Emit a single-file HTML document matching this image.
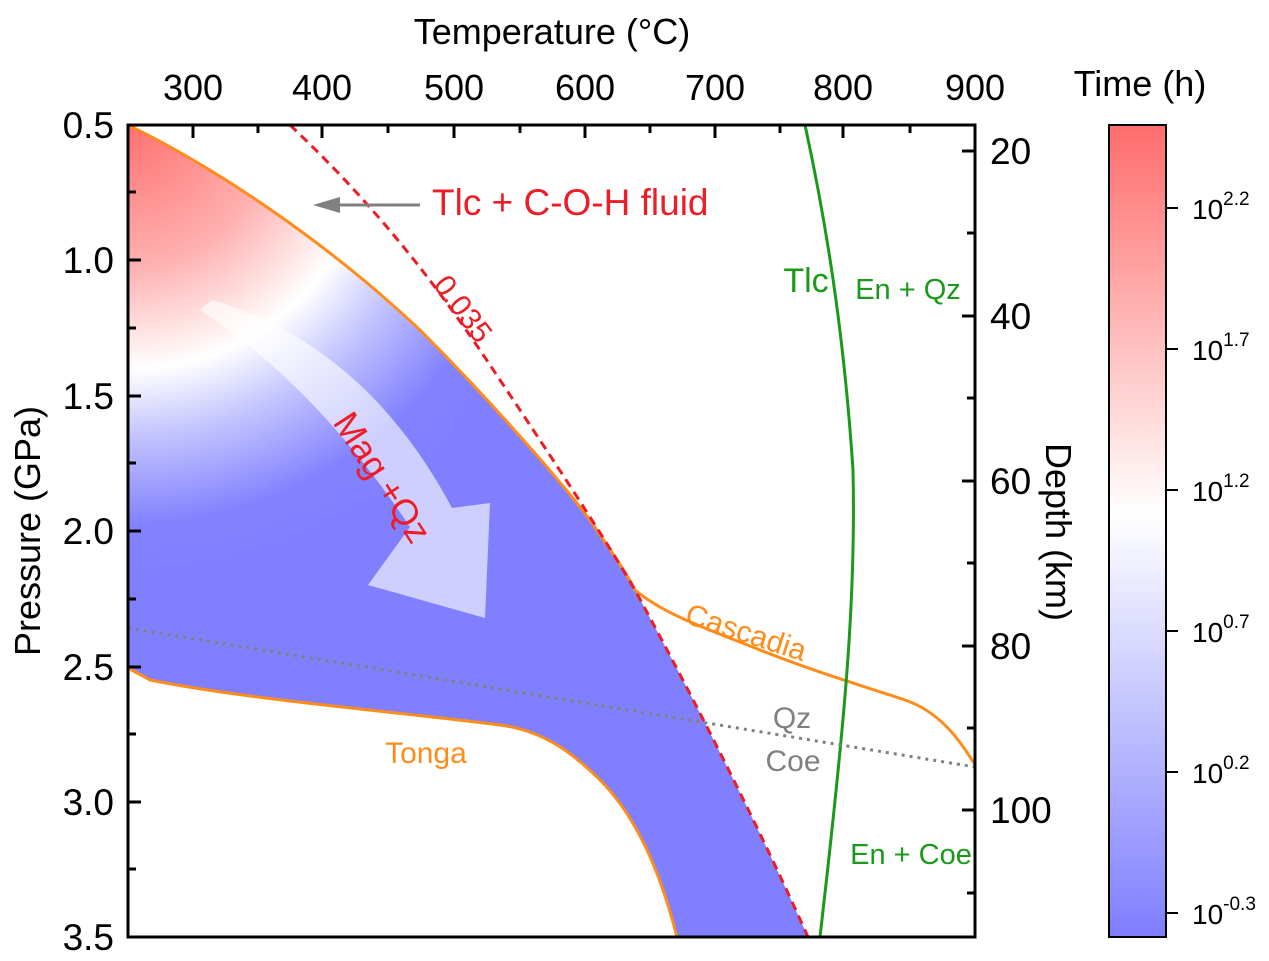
<!DOCTYPE html>
<html><head><meta charset="utf-8"><style>body{margin:0;background:#fff}svg{display:block}text{font-family:"Liberation Sans",sans-serif}</style></head><body>
<svg width="1269" height="961" viewBox="0 0 1269 961" xmlns="http://www.w3.org/2000/svg">
<defs>
<radialGradient id="rg" gradientUnits="userSpaceOnUse" cx="128" cy="125" r="470">
<stop offset="0" stop-color="#ff7070"/><stop offset="0.3" stop-color="#ffb0b0"/><stop offset="0.52" stop-color="#ffffff"/><stop offset="0.66" stop-color="#c4c4ff"/><stop offset="0.85" stop-color="#8282ff"/><stop offset="1" stop-color="#8080ff"/>
</radialGradient>
<linearGradient id="cb" x1="0" y1="0" x2="0" y2="1">
<stop offset="0" stop-color="#ff6c6c"/><stop offset="0.48" stop-color="#ffffff"/><stop offset="1" stop-color="#7e7eff"/>
</linearGradient>
</defs>
<path d="M128,125 C220,170 330,245 420,330 C490,400 560,480 590,520 C610,550 625,570 635,590 C700,710 760,830 808,937 L677,937 C660,870 635,815 600,780 C570,750 540,730 500,725 C400,712 250,700 150,680 L128,668 Z" fill="url(#rg)"/>
<path d="M200,310 Q315,385 410,527 L368,585 L485,618 L490,503 L452,508 Q365,345 212,300 Z" fill="#fff" fill-opacity="0.62"/>
<path d="M128,125 C220,170 330,245 420,330 C490,400 560,480 590,520 C610,550 625,570 635,590 C665,615 710,630 760,650 C810,670 860,685 905,700 C940,712 960,740 975,765" fill="none" stroke="#ff8c1a" stroke-width="3"/>
<path d="M128,668 L150,680 C250,700 400,712 500,725 C540,730 570,750 600,780 C635,815 660,870 677,937" fill="none" stroke="#ff8c1a" stroke-width="3"/>
<path d="M290,125 C380,210 440,290 490,365 C540,440 600,530 635,590 C700,710 760,830 808,937" fill="none" stroke="#ee1c25" stroke-width="3" stroke-dasharray="9,6"/>
<path d="M805,125 C830,240 845,350 853,470 C856,600 845,720 820,937" fill="none" stroke="#1a9a1a" stroke-width="3"/>
<line x1="128" y1="628" x2="975" y2="767" stroke="#808080" stroke-width="3" stroke-dasharray="3,5"/>
<line x1="420" y1="205" x2="330" y2="205" stroke="#808080" stroke-width="3"/>
<polygon points="313,205 340,197 340,213" fill="#808080"/>
<rect x="128" y="125" width="847" height="812" fill="none" stroke="#000" stroke-width="3"/>
<g stroke="#000" stroke-width="3">
<line x1="193" y1="125" x2="193" y2="138"/><line x1="258" y1="125" x2="258" y2="133"/><line x1="322" y1="125" x2="322" y2="138"/><line x1="388" y1="125" x2="388" y2="133"/><line x1="454" y1="125" x2="454" y2="138"/><line x1="520" y1="125" x2="520" y2="133"/><line x1="585" y1="125" x2="585" y2="138"/><line x1="650" y1="125" x2="650" y2="133"/><line x1="715" y1="125" x2="715" y2="138"/><line x1="780" y1="125" x2="780" y2="133"/><line x1="843" y1="125" x2="843" y2="138"/><line x1="910" y1="125" x2="910" y2="133"/>
<line x1="128" y1="192" x2="136" y2="192"/><line x1="128" y1="260" x2="141" y2="260"/><line x1="128" y1="328" x2="136" y2="328"/><line x1="128" y1="396" x2="141" y2="396"/><line x1="128" y1="463" x2="136" y2="463"/><line x1="128" y1="531" x2="141" y2="531"/><line x1="128" y1="599" x2="136" y2="599"/><line x1="128" y1="667" x2="141" y2="667"/><line x1="128" y1="734" x2="136" y2="734"/><line x1="128" y1="802" x2="141" y2="802"/><line x1="128" y1="869" x2="136" y2="869"/>
<line x1="975" y1="151" x2="962" y2="151"/><line x1="975" y1="233" x2="967" y2="233"/><line x1="975" y1="316" x2="962" y2="316"/><line x1="975" y1="398" x2="967" y2="398"/><line x1="975" y1="481" x2="962" y2="481"/><line x1="975" y1="563" x2="967" y2="563"/><line x1="975" y1="646" x2="962" y2="646"/><line x1="975" y1="728" x2="967" y2="728"/><line x1="975" y1="810" x2="962" y2="810"/><line x1="975" y1="893" x2="967" y2="893"/>
</g>
<g font-size="36" fill="#000" text-anchor="middle">
<text x="552" y="44">Temperature (°C)</text>
<text x="193" y="100">300</text><text x="322" y="100">400</text><text x="454" y="100">500</text><text x="585" y="100">600</text><text x="715" y="100">700</text><text x="843" y="100">800</text><text x="975" y="100">900</text>
<text x="1140" y="96">Time (h)</text>
</g>
<g font-size="37" fill="#000" text-anchor="end">
<text x="114" y="138">0.5</text><text x="114" y="273">1.0</text><text x="114" y="409">1.5</text><text x="114" y="544">2.0</text><text x="114" y="680">2.5</text><text x="114" y="815">3.0</text><text x="114" y="950">3.5</text>
</g>
<g font-size="37" fill="#000">
<text x="990" y="164">20</text><text x="990" y="329">40</text><text x="990" y="494">60</text><text x="990" y="659">80</text><text x="990" y="823">100</text>
</g>
<text transform="translate(40,531) rotate(-90)" font-size="36" text-anchor="middle">Pressure (GPa)</text>
<text transform="translate(1046,532) rotate(90)" font-size="36" text-anchor="middle">Depth (km)</text>
<rect x="1109" y="125" width="57" height="812" fill="url(#cb)" stroke="#000" stroke-width="2"/>
<g stroke="#000" stroke-width="2"><line x1="1166" y1="208" x2="1178" y2="208"/><line x1="1166" y1="349" x2="1178" y2="349"/><line x1="1166" y1="490" x2="1178" y2="490"/><line x1="1166" y1="631" x2="1178" y2="631"/><line x1="1166" y1="772" x2="1178" y2="772"/><line x1="1166" y1="913" x2="1178" y2="913"/></g>
<g font-size="28" fill="#000">
<text x="1192" y="219">10<tspan font-size="19" dy="-14">2.2</tspan></text>
<text x="1192" y="360">10<tspan font-size="19" dy="-14">1.7</tspan></text>
<text x="1192" y="501">10<tspan font-size="19" dy="-14">1.2</tspan></text>
<text x="1192" y="642">10<tspan font-size="19" dy="-14">0.7</tspan></text>
<text x="1192" y="783">10<tspan font-size="19" dy="-14">0.2</tspan></text>
<text x="1192" y="924">10<tspan font-size="19" dy="-14">-0.3</tspan></text>
</g>
<text x="432" y="215" font-size="37" fill="#ee1c25">Tlc + C-O-H fluid</text>
<text transform="translate(455,315) rotate(53)" font-size="30" fill="#ee1c25" text-anchor="middle">0.035</text>
<text transform="translate(372,484) rotate(57)" font-size="36" fill="#ee1c25" text-anchor="middle">Mag +Qz</text>
<text transform="translate(743,642) rotate(18)" font-size="30" fill="#ff8c1a" text-anchor="middle">Cascadia</text>
<text x="426" y="763" font-size="30" fill="#ff8c1a" text-anchor="middle">Tonga</text>
<text x="792" y="728" font-size="30" fill="#808080" text-anchor="middle">Qz</text>
<text x="793" y="771" font-size="30" fill="#808080" text-anchor="middle">Coe</text>
<text x="806" y="292" font-size="34" fill="#1a9a1a" text-anchor="middle">Tlc</text>
<text x="908" y="299" font-size="29" fill="#1a9a1a" text-anchor="middle">En + Qz</text>
<text x="911" y="864" font-size="29" fill="#1a9a1a" text-anchor="middle">En + Coe</text>
</svg>
</body></html>
